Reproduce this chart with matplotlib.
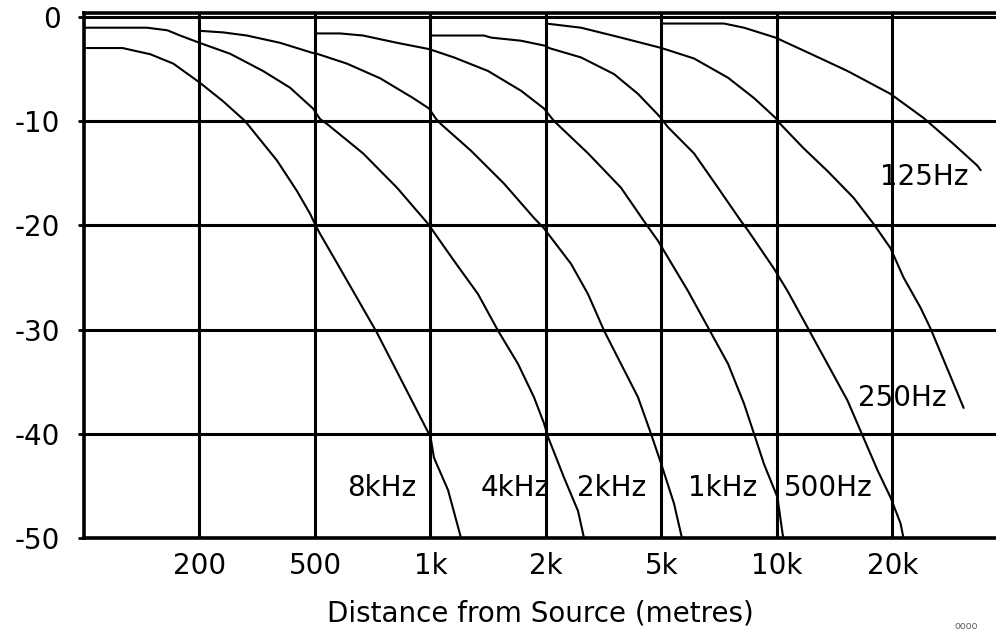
import numpy as np
import matplotlib
matplotlib.use("Agg")
import matplotlib.pyplot as plt

# distance axis: 100, 200, 500, 1k ... spaced evenly, one grid column each
grid_m = [100, 200, 500, 1000, 2000, 5000, 10000, 20000, 50000]
tick_m = [200, 500, 1000, 2000, 5000, 10000, 20000]
tick_lbl = ['200', '500', '1k', '2k', '5k', '10k', '20k']
y_ticks = [0, -10, -20, -30, -40, -50]

# attenuation (dB) against distance (m), one curve per band
d_8k = [100, 126, 149, 171, 200, 241, 287, 370, 433, 481, 500, 515, 570, 725, 1000, 1021, 1111, 1201]
a_8k = [-3.0, -3.0, -3.6, -4.5, -6.3, -8.1, -10.0, -13.8, -16.7, -18.9, -19.9, -20.8, -23.6, -30.3, -40.3, -42.3, -45.4, -50.0]

d_4k = [100, 146, 165, 178, 200, 255, 331, 410, 492, 515, 538, 667, 818, 985, 1000, 1151, 1330, 1499, 1691, 1861, 1976, 2032, 2307, 2578, 2704]
a_4k = [-1.05, -1.05, -1.3, -1.8, -2.5, -3.55, -5.2, -6.8, -8.8, -9.8, -10.3, -13.1, -16.4, -19.85, -20.2, -23.4, -26.6, -30.1, -33.3, -36.5, -39.0, -40.3, -44.2, -47.4, -50.0]

d_2k = [200, 241, 291, 379, 488, 506, 606, 739, 901, 991, 1034, 1065, 1275, 1554, 1861, 1976, 2439, 2791, 3169, 3626, 4150, 4600, 4990, 5390, 5620, 5655]
a_2k = [-1.35, -1.5, -1.8, -2.5, -3.45, -3.55, -4.5, -5.9, -7.8, -8.8, -9.8, -10.3, -12.85, -16.0, -19.3, -20.3, -23.7, -26.6, -30.1, -33.3, -36.5, -40.0, -42.9, -46.7, -49.6, -50.0]

d_1k = [500, 581, 667, 818, 991, 1151, 1412, 1722, 1976, 2131, 2791, 3626, 4350, 4864, 5860, 6610, 7455, 8202, 8712, 9247, 10030, 10340, 10400]
a_1k = [-1.6, -1.6, -1.8, -2.5, -3.1, -3.9, -5.2, -7.1, -8.8, -10.0, -13.1, -16.4, -19.6, -21.5, -26.3, -29.8, -33.3, -37.1, -40.0, -42.9, -46.1, -49.6, -50.0]

d_500 = [1000, 1378, 1438, 1722, 2000, 2048, 2640, 3431, 4150, 4901, 5201, 6075, 7018, 8056, 8403, 9795, 10650, 12010, 13540, 15260, 18280, 19760, 21320, 21820]
a_500 = [-1.8, -1.8, -2.0, -2.3, -2.8, -3.0, -3.9, -5.5, -7.4, -9.5, -10.6, -13.1, -16.4, -19.6, -20.5, -24.1, -26.3, -29.8, -33.3, -36.8, -43.5, -46.1, -48.6, -50.0]

d_250 = [2000, 2640, 3626, 5000, 6075, 7455, 8712, 9910, 10210, 11720, 13540, 15820, 17840, 19760, 21820, 24970, 27040, 35140]
a_250 = [-0.65, -1.05, -2.0, -3.0, -4.0, -5.85, -7.8, -9.7, -10.3, -12.6, -14.8, -17.35, -19.85, -22.2, -25.0, -27.9, -29.9, -37.5]

d_125 = [5000, 7275, 8202, 9910, 12230, 15260, 19760, 25570, 32440, 39260, 40200]
a_125 = [-0.65, -0.65, -1.05, -2.0, -3.55, -5.2, -7.4, -9.7, -12.2, -14.3, -14.7]

bands = ['8kHz', '4kHz', '2kHz', '1kHz', '500Hz', '250Hz', '125Hz']
curves = [(d_8k, a_8k), (d_4k, a_4k), (d_2k, a_2k), (d_1k, a_1k),
          (d_500, a_500), (d_250, a_250), (d_125, a_125)]
# where each band name sits (metres, dB)
lbl_x = [747, 1661, 3376, 7230, 13580, 21560, 25680]
lbl_y = [-45.2, -45.2, -45.2, -45.2, -45.2, -36.6, -15.4]

log_grid = np.log10(grid_m)
idx = np.arange(len(grid_m))


def fwd(x):
    x = np.clip(np.asarray(x, dtype=float), 1e-9, None)
    return np.interp(np.log10(x), log_grid, idx)


def inv(p):
    return 10 ** np.interp(p, idx, log_grid)


plt.rcParams['font.family'] = ['DejaVu Sans']
fig = plt.figure(figsize=(9.96, 6.32), dpi=100)
ax = fig.add_axes([84 / 996, 1 - 538 / 632, 1 - 84 / 996, (538 - 13) / 632])
ax.set_xscale('function', functions=(fwd, inv))

for (d, a) in curves:
    ax.plot(d, a, color='black', lw=1.5, zorder=3, solid_joinstyle='round')

for name, x, y in zip(bands, lbl_x, lbl_y):
    ax.text(x, y, name, fontsize=20, ha='center', va='center', zorder=4)

ax.set_xlim(100, 45460)
ax.set_ylim(-50, 0.36)
ax.set_xticks(tick_m)
ax.set_xticklabels(tick_lbl)
ax.set_yticks(y_ticks)
ax.set_yticklabels([str(v) for v in y_ticks])
ax.minorticks_off()

ax.grid(True, color='black', lw=2.2)
for s in ['left', 'top', 'bottom']:
    ax.spines[s].set_linewidth(2.6)
ax.spines['right'].set_visible(False)

ax.tick_params(axis='y', length=4, width=2, pad=13, labelsize=20)
ax.tick_params(axis='x', length=0, pad=10, labelsize=20)
ax.set_xlabel('Distance from Source (metres)', fontsize=20, labelpad=14)

fig.text(0.958, 0.004, 'oooo', fontsize=7, color='0.4')

fig.savefig('out.png', dpi=100)
